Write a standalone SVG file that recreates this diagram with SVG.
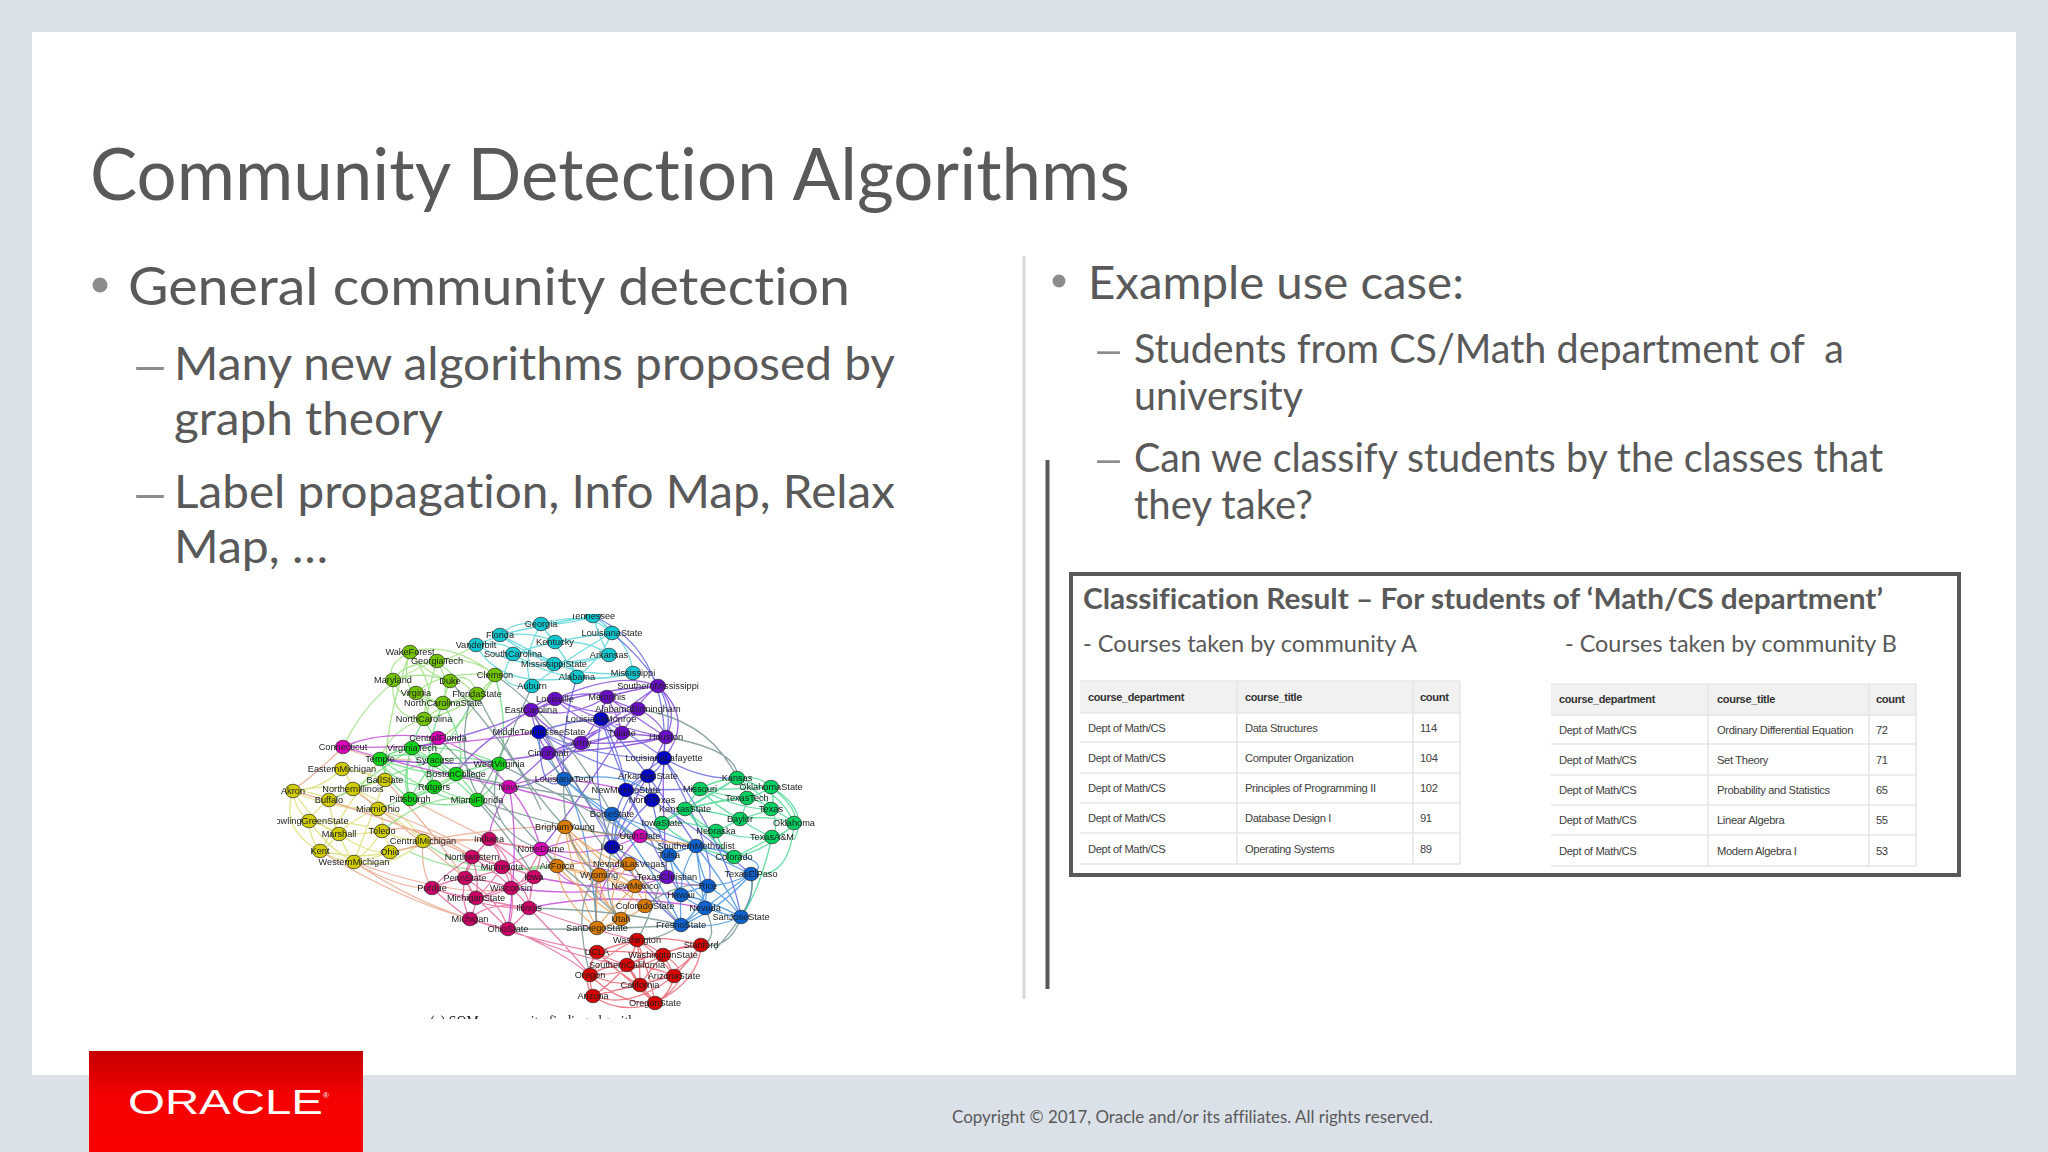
<svg xmlns="http://www.w3.org/2000/svg" width="2048" height="1152" viewBox="0 0 2048 1152">
<style>
.t{font-family:Lato,"Liberation Sans",sans-serif;fill:#595959;font-variant-ligatures:none}
.b{font-family:"Liberation Sans",Arial,sans-serif;font-size:11.2px;letter-spacing:-.35px;fill:#404040}
.h{font-weight:bold;fill:#333}
.tl{fill:none;stroke:#e6e6e6;stroke-width:1.6}
.e{fill:none;stroke-width:1.3;stroke-opacity:.8}
#graph ellipse{rx:7.6px;ry:6.8px;stroke:#222;stroke-width:.7}
#graph text{font-family:"Liberation Sans",Arial,sans-serif;font-size:9.2px;fill:#222;text-anchor:middle}
.cy ellipse{fill:#10c8d0}.li ellipse{fill:#72c400}.gr ellipse{fill:#10d418}.ye ellipse{fill:#d0cc00}.ma ellipse{fill:#d800b8}.cr ellipse{fill:#cc0066}.pu ellipse{fill:#6a10c8}.db ellipse{fill:#0000cc}.bl ellipse{fill:#0a62d0}.te ellipse{fill:#00d060}.or ellipse{fill:#d87a00}.re ellipse{fill:#d80000}
</style>
<defs>
<linearGradient id="red" x1="0" y1="0" x2="0" y2="1"><stop offset="0" stop-color="#c60000"/><stop offset=".45" stop-color="#f50000"/><stop offset="1" stop-color="#fb0000"/></linearGradient>
<clipPath id="imgclip"><rect x="277" y="614" width="560" height="405"/></clipPath>
<filter id="soft" x="0" y="0" width="1" height="1"><feGaussianBlur stdDeviation="0.45"/></filter>
</defs>
<rect width="2048" height="1152" fill="#dbe1e8"/>
<rect x="32" y="32" width="1984" height="1043" fill="#fff"/>
<g id="logo"><rect x="89" y="1051" width="274" height="101" fill="url(#red)"/>
<text x="128" y="1114" font-family="Liberation Sans,sans-serif" font-size="35" fill="#fff" textLength="195" lengthAdjust="spacingAndGlyphs">ORACLE</text>
<text x="323" y="1098" font-family="Liberation Sans,sans-serif" font-size="8" fill="#fff">®</text></g>
<text id="title" class="t" x="90" y="200" font-size="72" textLength="1040" lengthAdjust="spacingAndGlyphs">Community Detection Algorithms</text>
<g id="left-text">
<circle cx="100" cy="285" r="7.5" fill="#8c8c8c"/>
<text class="t" x="128" y="305" font-size="52" textLength="722" lengthAdjust="spacingAndGlyphs">General community detection</text>
<text class="t" x="130" y="382" font-size="46" textLength="40" lengthAdjust="spacingAndGlyphs" style="fill:#8c8c8c">–</text>
<text class="t" x="174" y="380" font-size="46" textLength="721" lengthAdjust="spacingAndGlyphs">Many new algorithms proposed by</text>
<text class="t" x="174" y="435" font-size="46" textLength="269" lengthAdjust="spacingAndGlyphs">graph theory</text>
<text class="t" x="130" y="510" font-size="46" textLength="40" lengthAdjust="spacingAndGlyphs" style="fill:#8c8c8c">–</text>
<text class="t" x="174" y="508" font-size="46" textLength="721" lengthAdjust="spacingAndGlyphs">Label propagation, Info Map, Relax</text>
<text class="t" x="174" y="563" font-size="46" textLength="154" lengthAdjust="spacingAndGlyphs">Map, …</text>
</g>
<line x1="1024" y1="256" x2="1024" y2="999" stroke="#d9d9d9" stroke-width="3"/>
<line x1="1047.5" y1="460" x2="1047.5" y2="989" stroke="#595959" stroke-width="4"/>
<g id="right-text">
<circle cx="1059" cy="281" r="6.5" fill="#8c8c8c"/>
<text class="t" x="1088" y="299" font-size="46" textLength="376" lengthAdjust="spacingAndGlyphs">Example use case:</text>
<text class="t" x="1092" y="365" font-size="41" textLength="33" lengthAdjust="spacingAndGlyphs" style="fill:#8c8c8c">–</text>
<text class="t" x="1134" y="363" font-size="41" textLength="710" lengthAdjust="spacingAndGlyphs" xml:space="preserve">Students from CS/Math department of  a</text>
<text class="t" x="1134" y="410" font-size="41" textLength="169" lengthAdjust="spacingAndGlyphs">university</text>
<text class="t" x="1092" y="474" font-size="41" textLength="33" lengthAdjust="spacingAndGlyphs" style="fill:#8c8c8c">–</text>
<text class="t" x="1134" y="472" font-size="41" textLength="749" lengthAdjust="spacingAndGlyphs">Can we classify students by the classes that</text>
<text class="t" x="1134" y="519" font-size="41" textLength="179" lengthAdjust="spacingAndGlyphs">they take?</text>
</g>
<g id="result-box">
<rect x="1071" y="574" width="888" height="301" fill="#fff" stroke="#595959" stroke-width="4"/>
<text class="t" x="1083" y="609" font-size="29" font-weight="bold" textLength="800" lengthAdjust="spacingAndGlyphs">Classification Result – For students of ‘Math/CS department’</text>
<text class="t" x="1083" y="652" font-size="23" textLength="334" lengthAdjust="spacingAndGlyphs">- Courses taken by community A</text>
<text class="t" x="1565" y="652" font-size="23" textLength="332" lengthAdjust="spacingAndGlyphs">- Courses taken by community B</text>
</g>
<g id="table-a">
<rect x="1080" y="681" width="380" height="32" fill="#f1f1f1"/>
<path class="tl" d="M1080 681H1460M1080 713H1460M1080 742H1460M1080 773H1460M1080 803H1460M1080 833H1460M1080 864H1460M1237 681V864M1413 681V864M1460 681V864"/>
<text class="b h" x="1088" y="701" textLength="96" lengthAdjust="spacingAndGlyphs">course_department</text><text class="b h" x="1245" y="701" textLength="57" lengthAdjust="spacingAndGlyphs">course_title</text><text class="b h" x="1420" y="701">count</text>
<text class="b" x="1088" y="732">Dept of Math/CS</text><text class="b" x="1245" y="732">Data Structures</text><text class="b" x="1420" y="732">114</text>
<text class="b" x="1088" y="762">Dept of Math/CS</text><text class="b" x="1245" y="762">Computer Organization</text><text class="b" x="1420" y="762">104</text>
<text class="b" x="1088" y="792">Dept of Math/CS</text><text class="b" x="1245" y="792">Principles of Programming II</text><text class="b" x="1420" y="792">102</text>
<text class="b" x="1088" y="822">Dept of Math/CS</text><text class="b" x="1245" y="822">Database Design I</text><text class="b" x="1420" y="822">91</text>
<text class="b" x="1088" y="853">Dept of Math/CS</text><text class="b" x="1245" y="853">Operating Systems</text><text class="b" x="1420" y="853">89</text>
</g>
<g id="table-b">
<rect x="1551" y="684" width="365" height="31" fill="#f1f1f1"/>
<path class="tl" d="M1551 684H1916M1551 715H1916M1551 744H1916M1551 775H1916M1551 805H1916M1551 835H1916M1551 866H1916M1708 684V866M1869 684V866M1916 684V866"/>
<text class="b h" x="1559" y="703" textLength="96" lengthAdjust="spacingAndGlyphs">course_department</text><text class="b h" x="1717" y="703" textLength="58" lengthAdjust="spacingAndGlyphs">course_title</text><text class="b h" x="1876" y="703">count</text>
<text class="b" x="1559" y="734">Dept of Math/CS</text><text class="b" x="1717" y="734">Ordinary Differential Equation</text><text class="b" x="1876" y="734">72</text>
<text class="b" x="1559" y="764">Dept of Math/CS</text><text class="b" x="1717" y="764">Set Theory</text><text class="b" x="1876" y="764">71</text>
<text class="b" x="1559" y="794">Dept of Math/CS</text><text class="b" x="1717" y="794">Probability and Statistics</text><text class="b" x="1876" y="794">65</text>
<text class="b" x="1559" y="824">Dept of Math/CS</text><text class="b" x="1717" y="824">Linear Algebra</text><text class="b" x="1876" y="824">55</text>
<text class="b" x="1559" y="855">Dept of Math/CS</text><text class="b" x="1717" y="855">Modern Algebra I</text><text class="b" x="1876" y="855">53</text>
</g>
<text id="copyright" class="t" x="952" y="1123" font-size="18" textLength="481" lengthAdjust="spacingAndGlyphs">Copyright © 2017, Oracle and/or its affiliates. All rights reserved.</text>
<g id="graph" clip-path="url(#imgclip)"><g filter="url(#soft)">
<g id="connectors">
<path class="e" stroke="#4fd3d8" d="M541 624Q515 620 500 635M541 624Q590 610 612 633M541 624Q570 625 593 616M500 635Q540 625 593 616M476 645Q520 625 555 642M476 645Q510 640 513 654M513 654Q550 640 612 633M513 654Q540 650 554 664M554 664Q590 660 609 655M554 664Q570 655 577 677M577 677Q610 680 633 673M532 686Q520 660 541 624M532 686Q580 650 612 633M609 655Q600 640 593 616M577 677Q600 660 612 633M500 635Q560 680 633 673M476 645Q500 690 577 677M555 642Q590 640 609 655M513 654Q490 690 532 686M593 616Q630 640 633 673M476 645Q540 680 609 655M555 642Q545 630 541 624M500 635Q530 650 554 664M541 624Q560 650 577 677M513 654Q570 690 633 673"/>
<path class="e" stroke="#9adf7a" d="M410 652Q450 640 495 675M410 652Q420 670 450 681M410 652Q385 665 393 680M437 661Q470 655 495 675M437 661Q400 665 393 680M437 661Q425 700 424 719M393 680Q420 670 450 681M393 680Q400 700 416 693M393 680Q390 720 424 719M450 681Q470 670 477 694M416 693Q435 715 424 719M477 694Q460 705 443 703M443 703Q430 700 416 693M495 675Q490 690 477 694M450 681Q445 695 443 703M437 661Q470 690 477 694M410 652Q395 700 443 703M495 675Q470 710 424 719M416 693Q440 670 495 675M424 719Q450 700 477 694M410 652Q440 690 424 719M437 661Q450 680 443 703M476 645Q450 660 437 661M424 719Q390 730 380 759M495 675Q460 740 412 748M437 661Q375 680 343 747M410 652Q385 720 385 780"/>
<path class="e" stroke="#64dc7c" d="M412 748Q395 750 380 759M412 748Q425 755 435 760M412 748Q440 775 456 774M412 748Q420 770 434 787M412 748Q400 780 410 799M380 759Q410 750 435 760M380 759Q420 775 456 774M380 759Q390 785 434 787M380 759Q385 780 410 799M435 760Q470 755 499 764M435 760Q445 765 456 774M435 760Q430 775 434 787M435 760Q420 780 410 799M435 760Q460 785 477 800M499 764Q480 765 456 774M499 764Q500 785 477 800M456 774Q445 785 434 787M456 774Q470 785 477 800M434 787Q420 795 410 799M434 787Q460 800 477 800M410 799Q445 810 477 800M410 799Q460 780 499 764M412 748Q460 745 499 764M380 759Q450 810 477 800M424 719Q440 745 435 760M443 703Q470 750 456 774M477 694Q450 740 435 760M495 675Q510 730 499 764M424 719Q400 760 410 799M443 703Q420 760 434 787"/>
<path class="e" stroke="#dcdc70" d="M342 769Q350 780 353 789M342 769Q320 790 293 791M342 769Q360 770 385 780M353 789Q320 785 293 791M353 789Q370 785 385 780M353 789Q340 795 329 800M353 789Q370 800 378 809M293 791Q310 790 329 800M293 791Q295 810 309 821M293 791Q320 830 339 834M293 791Q330 810 378 809M329 800Q315 810 309 821M329 800Q330 815 339 834M329 800Q350 810 378 809M378 809Q350 820 339 834M378 809Q385 820 382 831M378 809Q400 820 423 841M309 821Q325 825 339 834M309 821Q310 840 320 851M309 821Q330 850 354 862M309 821Q350 820 382 831M339 834Q360 835 382 831M339 834Q330 845 320 851M339 834Q345 850 354 862M339 834Q370 855 390 852M382 831Q400 840 423 841M382 831Q390 845 390 852M382 831Q370 850 354 862M423 841Q410 850 390 852M423 841Q390 870 354 862M320 851Q335 860 354 862M390 852Q370 860 354 862M320 851Q360 860 390 852M293 791Q280 830 320 851M353 789Q405 810 423 841M385 780Q370 820 354 862M380 759Q345 810 320 851"/>
<path class="e" stroke="#e9a48a" d="M354 862Q410 900 470 919M354 862Q400 890 432 888M343 747Q320 770 293 791M320 851Q400 900 470 919M390 852Q440 840 489 839M423 841Q460 835 541 849M382 831Q420 820 472 857M423 841Q420 870 432 888M353 789Q420 840 465 878M378 809Q440 830 502 867M343 747Q370 760 412 760M385 780Q450 850 476 898M423 841Q510 825 565 827M354 862Q460 900 511 888M410 799Q470 830 489 839M293 791Q400 820 472 857"/>
<path class="e" stroke="#7bdc80" d="M410 852Q470 880 541 866M423 841Q470 880 557 866M382 831Q430 790 477 800M329 800Q400 770 435 760M353 789Q395 760 412 748M378 809Q430 790 456 774"/>
<path class="e" stroke="#e2609a" d="M489 839Q480 850 472 857M489 839Q500 850 502 867M489 839Q470 860 465 878M489 839Q520 860 534 877M489 839Q515 860 511 888M472 857Q485 860 502 867M472 857Q465 870 465 878M472 857Q450 870 432 888M472 857Q500 875 511 888M472 857Q480 880 476 898M502 867Q490 875 465 878M502 867Q520 870 534 877M502 867Q510 880 511 888M502 867Q490 885 476 898M502 867Q530 890 529 908M465 878Q450 880 432 888M465 878Q490 880 511 888M465 878Q470 890 476 898M465 878Q460 900 470 919M465 878Q500 900 508 929M534 877Q525 885 511 888M534 877Q530 895 529 908M534 877Q500 890 476 898M432 888Q450 895 476 898M432 888Q450 905 470 919M432 888Q490 910 529 908M511 888Q495 895 476 898M511 888Q520 895 529 908M511 888Q515 910 508 929M476 898Q475 910 470 919M476 898Q495 915 508 929M476 898Q505 905 529 908M529 908Q520 920 508 929M470 919Q490 925 508 929M529 908Q490 900 470 919M541 849Q520 860 502 867M541 849Q500 845 489 839M541 849Q540 865 534 877M541 849Q520 890 511 888M508 929Q560 950 590 975M470 919Q530 940 597 952M529 908Q570 950 590 975M508 929Q580 960 627 965M529 908Q590 930 637 940"/>
<path class="e" stroke="#c13fd6" d="M509 787Q490 820 489 839M509 787Q530 810 541 849M509 787Q540 770 626 790M343 747Q420 770 509 787M541 849Q600 830 640 836M438 738Q490 760 509 787M640 836Q590 860 541 849M438 738Q380 730 343 747M343 747Q420 750 539 732M541 849Q570 900 605 880M640 836Q600 880 600 900M509 787Q520 840 508 929M534 877Q600 890 681 895M511 888Q600 900 667 877M541 849Q620 880 708 886M509 787Q560 800 612 814M529 908Q610 890 705 908"/>
<path class="e" stroke="#7f42d8" d="M555 699Q540 700 531 710M555 699Q590 690 607 697M555 699Q600 720 638 709M555 699Q590 730 622 733M555 699Q620 730 666 737M531 710Q570 720 607 697M531 710Q590 690 658 686M531 710Q550 735 581 743M531 710Q535 735 548 753M607 697Q630 690 658 686M607 697Q620 705 638 709M607 697Q600 720 581 743M607 697Q620 720 622 733M607 697Q640 720 666 737M658 686Q640 700 638 709M658 686Q680 710 666 737M658 686Q610 720 581 743M638 709Q630 720 622 733M638 709Q660 720 666 737M638 709Q600 730 581 743M638 709Q590 735 548 753M622 733Q600 740 581 743M622 733Q640 735 666 737M622 733Q590 745 548 753M581 743Q565 745 548 753M581 743Q620 745 666 737M666 737Q620 750 548 753M658 686Q620 670 555 699M658 686Q695 720 664 758M666 737Q660 770 667 877M548 753Q520 780 509 787M555 699Q500 730 412 748M581 743Q540 790 509 787M622 733Q580 800 541 849M666 737Q630 810 612 847M531 710Q570 780 564 779M531 710Q470 750 456 774M548 753Q470 770 380 759"/>
<path class="e" stroke="#5b5fe0" d="M539 732Q570 720 601 719M539 732Q600 760 664 758M539 732Q600 770 648 776M601 719Q640 740 664 758M601 719Q620 750 626 790M601 719Q630 750 648 776M664 758Q660 770 648 776M664 758Q640 775 626 790M664 758Q665 780 652 800M648 776Q640 780 626 790M648 776Q650 790 652 800M648 776Q625 790 612 847M626 790Q640 795 652 800M626 790Q610 820 612 847M652 800Q630 820 612 847M593 616Q670 650 664 758M612 633Q680 690 666 737M539 732Q590 800 612 847M601 719Q590 790 612 847M626 790Q650 790 700 789M539 732Q540 800 564 779M664 758Q700 780 737 778M612 847Q640 860 667 877M577 677Q560 730 564 779M652 800Q660 840 669 855M626 790Q650 850 696 846M648 776Q680 820 696 846M664 758Q720 860 708 886M601 719Q640 830 681 895M612 847Q650 900 681 925M652 800Q700 830 751 874M664 758Q730 850 741 917"/>
<path class="e" stroke="#3f8fe0" d="M564 779Q530 740 539 732M564 779Q590 800 612 814M564 779Q590 830 597 928M612 814Q620 830 612 847M612 814Q650 830 669 855M669 855Q680 850 696 846M696 846Q700 870 708 886M669 855Q680 880 708 886M669 855Q675 880 681 895M696 846Q720 860 751 874M696 846Q680 870 681 895M696 846Q700 880 705 908M696 846Q730 890 741 917M708 886Q690 890 681 895M708 886Q705 900 705 908M708 886Q730 885 751 874M708 886Q730 900 741 917M708 886Q700 910 681 925M681 895Q695 905 705 908M681 895Q710 900 741 917M681 895Q680 910 681 925M705 908Q725 915 741 917M705 908Q695 915 681 925M705 908Q735 885 751 874M751 874Q755 900 741 917M741 917Q710 930 681 925M751 874Q720 910 681 925M669 855Q710 920 741 917M612 814Q660 880 681 925M696 846Q780 860 751 874M564 779Q620 830 669 855M612 814Q660 830 696 846M564 779Q640 770 652 800"/>
<path class="e" stroke="#44d690" d="M737 778Q760 775 771 787M737 778Q715 780 700 789M737 778Q745 785 747 798M737 778Q770 800 771 809M737 778Q780 790 794 823M737 778Q700 800 685 809M771 787Q760 795 747 798M771 787Q775 800 771 809M771 787Q800 810 794 823M771 787Q720 790 700 789M700 789Q720 795 747 798M700 789Q690 800 685 809M700 789Q740 810 771 809M700 789Q720 810 740 819M747 798Q760 800 771 809M747 798Q745 810 740 819M747 798Q720 800 685 809M771 809Q785 815 794 823M771 809Q755 815 740 819M771 809Q780 825 772 837M685 809Q670 815 662 823M685 809Q710 810 740 819M685 809Q700 825 716 831M662 823Q690 820 716 831M662 823Q700 800 747 798M740 819Q730 825 716 831M740 819Q755 830 772 837M740 819Q770 815 794 823M716 831Q745 840 772 837M716 831Q720 850 734 857M794 823Q785 835 772 837M772 837Q750 850 734 857M794 823Q770 850 734 857M662 823Q690 850 734 857M685 809Q710 840 734 857M794 823Q790 880 751 874M772 837Q760 890 741 917M771 787Q810 810 794 840M662 823Q720 790 737 778"/>
<path class="e" stroke="#e8a15c" d="M565 827Q550 850 557 866M565 827Q600 860 629 864M565 827Q580 860 599 875M565 827Q610 870 635 886M565 827Q600 880 645 906M565 827Q590 890 621 919M565 827Q575 890 597 928M557 866Q590 860 629 864M557 866Q575 870 599 875M557 866Q600 880 635 886M557 866Q590 900 621 919M629 864Q615 870 599 875M629 864Q635 875 635 886M629 864Q650 880 645 906M599 875Q615 880 635 886M599 875Q600 900 621 919M599 875Q595 900 597 928M635 886Q640 895 645 906M635 886Q630 905 621 919M635 886Q610 910 597 928M645 906Q635 915 621 919M645 906Q620 925 597 928M621 919Q610 925 597 928M557 866Q560 900 597 928M629 864Q600 900 621 919M565 827Q640 840 700 845"/>
<path class="e" stroke="#e85f6c" d="M637 940Q615 945 597 952M637 940Q650 945 663 955M637 940Q635 950 627 965M637 940Q610 950 590 975M637 940Q665 935 701 945M637 940Q660 955 674 976M637 940Q640 960 640 985M637 940Q650 975 655 1003M701 945Q680 945 663 955M701 945Q690 960 674 976M701 945Q660 950 627 965M701 945Q680 975 640 985M701 945Q700 980 655 1003M597 952Q620 950 663 955M597 952Q610 960 627 965M597 952Q590 960 590 975M597 952Q620 975 640 985M597 952Q580 980 593 996M597 952Q640 990 655 1003M663 955Q645 955 627 965M663 955Q670 965 674 976M663 955Q650 970 640 985M663 955Q630 975 590 975M627 965Q605 965 590 975M627 965Q650 965 674 976M627 965Q635 975 640 985M627 965Q610 985 593 996M627 965Q640 990 655 1003M590 975Q590 985 593 996M590 975Q615 985 640 985M590 975Q620 1005 655 1003M674 976Q655 980 640 985M674 976Q670 995 655 1003M640 985Q615 990 593 996M640 985Q650 995 655 1003M593 996Q620 1015 655 1003M674 976Q630 1010 593 996M663 955Q700 975 655 1003"/>
<path class="e" stroke="#6f8f8f" d="M470 700Q450 780 500 820M477 694Q520 780 565 827M495 675Q560 720 612 814M564 779Q560 850 599 875M531 710Q620 860 681 925M638 709Q710 720 737 778M666 737Q740 750 737 778M477 800Q560 830 641 838M438 738Q520 820 557 866M499 764Q590 810 669 855M548 753Q600 860 629 864M612 814Q590 880 597 928M669 855Q650 920 637 940M705 908Q720 940 701 945M741 917Q730 950 701 945M681 925Q660 940 637 940M751 874Q760 900 715 950M599 875Q570 900 590 975M456 774Q530 790 600 800M477 800Q520 850 534 877M499 764Q480 830 541 849M541 849Q580 880 621 919M612 847Q600 900 621 919M532 686Q500 760 477 800M450 681Q520 760 541 810M529 908Q620 910 681 925M508 929Q610 930 681 925M645 906Q680 880 708 886"/>
</g>
<g class="cy"><g id="n-georgia"><ellipse cx="541" cy="624"/><text x="541" y="627">Georgia</text></g><g id="n-florida"><ellipse cx="500" cy="635"/><text x="500" y="638">Florida</text></g><g id="n-vanderbilt"><ellipse cx="476" cy="645"/><text x="476" y="648">Vanderbilt</text></g><g id="n-kentucky"><ellipse cx="555" cy="642"/><text x="555" y="645">Kentucky</text></g><g id="n-southcarolina"><ellipse cx="513" cy="654"/><text x="513" y="657">SouthCarolina</text></g><g id="n-mississippistate"><ellipse cx="554" cy="664"/><text x="554" y="667">MississippiState</text></g><g id="n-alabama"><ellipse cx="577" cy="677"/><text x="577" y="680">Alabama</text></g><g id="n-auburn"><ellipse cx="532" cy="686"/><text x="532" y="689">Auburn</text></g><g id="n-tennessee"><ellipse cx="593" cy="616"/><text x="593" y="619">Tennessee</text></g><g id="n-louisianastate"><ellipse cx="612" cy="633"/><text x="612" y="636">LouisianaState</text></g><g id="n-arkansas"><ellipse cx="609" cy="655"/><text x="609" y="658">Arkansas</text></g><g id="n-mississippi"><ellipse cx="633" cy="673"/><text x="633" y="676">Mississippi</text></g></g>
<g class="li"><g id="n-clemson"><ellipse cx="495" cy="675"/><text x="495" y="678">Clemson</text></g><g id="n-wakeforest"><ellipse cx="410" cy="652"/><text x="410" y="655">WakeForest</text></g><g id="n-georgiatech"><ellipse cx="437" cy="661"/><text x="437" y="664">GeorgiaTech</text></g><g id="n-maryland"><ellipse cx="393" cy="680"/><text x="393" y="683">Maryland</text></g><g id="n-duke"><ellipse cx="450" cy="681"/><text x="450" y="684">Duke</text></g><g id="n-virginia"><ellipse cx="416" cy="693"/><text x="416" y="696">Virginia</text></g><g id="n-floridastate"><ellipse cx="477" cy="694"/><text x="477" y="697">FloridaState</text></g><g id="n-ncstate"><ellipse cx="443" cy="703"/><text x="443" y="706">NorthCarolinaState</text></g><g id="n-northcarolina"><ellipse cx="424" cy="719"/><text x="424" y="722">NorthCarolina</text></g></g>
<g class="gr"><g id="n-virginiatech"><ellipse cx="412" cy="748"/><text x="412" y="751">VirginiaTech</text></g><g id="n-temple"><ellipse cx="380" cy="759"/><text x="380" y="762">Temple</text></g><g id="n-syracuse"><ellipse cx="435" cy="760"/><text x="435" y="763">Syracuse</text></g><g id="n-westvirginia"><ellipse cx="499" cy="764"/><text x="499" y="767">WestVirginia</text></g><g id="n-bostoncollege"><ellipse cx="456" cy="774"/><text x="456" y="777">BostonCollege</text></g><g id="n-rutgers"><ellipse cx="434" cy="787"/><text x="434" y="790">Rutgers</text></g><g id="n-pittsburgh"><ellipse cx="410" cy="799"/><text x="410" y="802">Pittsburgh</text></g><g id="n-miamiflorida"><ellipse cx="477" cy="800"/><text x="477" y="803">MiamiFlorida</text></g></g>
<g class="ma"><g id="n-centralflorida"><ellipse cx="438" cy="738"/><text x="438" y="741">CentralFlorida</text></g><g id="n-connecticut"><ellipse cx="343" cy="747"/><text x="343" y="750">Connecticut</text></g><g id="n-navy"><ellipse cx="509" cy="787"/><text x="509" y="790">Navy</text></g><g id="n-notredame"><ellipse cx="541" cy="849"/><text x="541" y="852">NotreDame</text></g><g id="n-utahstate"><ellipse cx="640" cy="836"/><text x="640" y="839">UtahState</text></g></g>
<g class="pu"><g id="n-louisville"><ellipse cx="555" cy="699"/><text x="555" y="702">Louisville</text></g><g id="n-eastcarolina"><ellipse cx="531" cy="710"/><text x="531" y="713">EastCarolina</text></g><g id="n-cincinnati"><ellipse cx="548" cy="753"/><text x="548" y="756">Cincinnati</text></g><g id="n-army"><ellipse cx="581" cy="743"/><text x="581" y="746">Army</text></g><g id="n-southernmississippi"><ellipse cx="658" cy="686"/><text x="658" y="689">SouthernMississippi</text></g><g id="n-memphis"><ellipse cx="607" cy="697"/><text x="607" y="700">Memphis</text></g><g id="n-alabamabirmingham"><ellipse cx="638" cy="709"/><text x="638" y="712">AlabamaBirmingham</text></g><g id="n-tulane"><ellipse cx="622" cy="733"/><text x="622" y="736">Tulane</text></g><g id="n-houston"><ellipse cx="666" cy="737"/><text x="666" y="740">Houston</text></g><g id="n-texaschristian"><ellipse cx="667" cy="877"/><text x="667" y="880">TexasChristian</text></g></g>
<g class="db"><g id="n-middletennesseestate"><ellipse cx="539" cy="732"/><text x="539" y="735">MiddleTennesseeState</text></g><g id="n-louisianamonroe"><ellipse cx="601" cy="719"/><text x="601" y="722">LouisianaMonroe</text></g><g id="n-louisianalafayette"><ellipse cx="664" cy="758"/><text x="664" y="761">LouisianaLafayette</text></g><g id="n-arkansasstate"><ellipse cx="648" cy="776"/><text x="648" y="779">ArkansasState</text></g><g id="n-newmexicostate"><ellipse cx="626" cy="790"/><text x="626" y="793">NewMexicoState</text></g><g id="n-northtexas"><ellipse cx="652" cy="800"/><text x="652" y="803">NorthTexas</text></g><g id="n-idaho"><ellipse cx="612" cy="847"/><text x="612" y="850">Idaho</text></g></g>
<g class="bl"><g id="n-louisianatech"><ellipse cx="564" cy="779"/><text x="564" y="782">LouisianaTech</text></g><g id="n-boisestate"><ellipse cx="612" cy="814"/><text x="612" y="817">BoiseState</text></g><g id="n-southernmethodist"><ellipse cx="696" cy="846"/><text x="696" y="849">SouthernMethodist</text></g><g id="n-tulsa"><ellipse cx="669" cy="855"/><text x="669" y="858">Tulsa</text></g><g id="n-texaselpaso"><ellipse cx="751" cy="874"/><text x="751" y="877">TexasElPaso</text></g><g id="n-rice"><ellipse cx="708" cy="886"/><text x="708" y="889">Rice</text></g><g id="n-hawaii"><ellipse cx="681" cy="895"/><text x="681" y="898">Hawaii</text></g><g id="n-nevada"><ellipse cx="705" cy="908"/><text x="705" y="911">Nevada</text></g><g id="n-sanjosestate"><ellipse cx="741" cy="917"/><text x="741" y="920">SanJoseState</text></g><g id="n-fresnostate"><ellipse cx="681" cy="925"/><text x="681" y="928">FresnoState</text></g></g>
<g class="ye"><g id="n-easternmichigan"><ellipse cx="342" cy="769"/><text x="342" y="772">EasternMichigan</text></g><g id="n-ballstate"><ellipse cx="385" cy="780"/><text x="385" y="783">BallState</text></g><g id="n-northernillinois"><ellipse cx="353" cy="789"/><text x="353" y="792">NorthernIllinois</text></g><g id="n-akron"><ellipse cx="293" cy="791"/><text x="293" y="794">Akron</text></g><g id="n-buffalo"><ellipse cx="329" cy="800"/><text x="329" y="803">Buffalo</text></g><g id="n-miamiohio"><ellipse cx="378" cy="809"/><text x="378" y="812">MiamiOhio</text></g><g id="n-bowlinggreen"><ellipse cx="309" cy="821"/><text x="312" y="824">owlingGreenState</text></g><g id="n-marshall"><ellipse cx="339" cy="834"/><text x="339" y="837">Marshall</text></g><g id="n-toledo"><ellipse cx="382" cy="831"/><text x="382" y="834">Toledo</text></g><g id="n-centralmichigan"><ellipse cx="423" cy="841"/><text x="423" y="844">CentralMichigan</text></g><g id="n-kent"><ellipse cx="320" cy="851"/><text x="320" y="854">Kent</text></g><g id="n-ohio"><ellipse cx="390" cy="852"/><text x="390" y="855">Ohio</text></g><g id="n-westernmichigan"><ellipse cx="354" cy="862"/><text x="354" y="865">WesternMichigan</text></g></g>
<g class="cr"><g id="n-indiana"><ellipse cx="489" cy="839"/><text x="489" y="842">Indiana</text></g><g id="n-northwestern"><ellipse cx="472" cy="857"/><text x="472" y="860">Northwestern</text></g><g id="n-minnesota"><ellipse cx="502" cy="867"/><text x="502" y="870">Minnesota</text></g><g id="n-pennstate"><ellipse cx="465" cy="878"/><text x="465" y="881">PennState</text></g><g id="n-iowa"><ellipse cx="534" cy="877"/><text x="534" y="880">Iowa</text></g><g id="n-purdue"><ellipse cx="432" cy="888"/><text x="432" y="891">Purdue</text></g><g id="n-wisconsin"><ellipse cx="511" cy="888"/><text x="511" y="891">Wisconsin</text></g><g id="n-michiganstate"><ellipse cx="476" cy="898"/><text x="476" y="901">MichiganState</text></g><g id="n-illinois"><ellipse cx="529" cy="908"/><text x="529" y="911">Illinois</text></g><g id="n-michigan"><ellipse cx="470" cy="919"/><text x="470" y="922">Michigan</text></g><g id="n-ohiostate"><ellipse cx="508" cy="929"/><text x="508" y="932">OhioState</text></g></g>
<g class="te"><g id="n-kansas"><ellipse cx="737" cy="778"/><text x="737" y="781">Kansas</text></g><g id="n-oklahomastate"><ellipse cx="771" cy="787"/><text x="771" y="790">OklahomaState</text></g><g id="n-missouri"><ellipse cx="700" cy="789"/><text x="700" y="792">Missouri</text></g><g id="n-texastech"><ellipse cx="747" cy="798"/><text x="747" y="801">TexasTech</text></g><g id="n-texas"><ellipse cx="771" cy="809"/><text x="771" y="812">Texas</text></g><g id="n-kansasstate"><ellipse cx="685" cy="809"/><text x="685" y="812">KansasState</text></g><g id="n-iowastate"><ellipse cx="662" cy="823"/><text x="662" y="826">IowaState</text></g><g id="n-baylor"><ellipse cx="740" cy="819"/><text x="740" y="822">Baylor</text></g><g id="n-oklahoma"><ellipse cx="794" cy="823"/><text x="794" y="826">Oklahoma</text></g><g id="n-nebraska"><ellipse cx="716" cy="831"/><text x="716" y="834">Nebraska</text></g><g id="n-texasam"><ellipse cx="772" cy="837"/><text x="772" y="840">TexasA&amp;M</text></g><g id="n-colorado"><ellipse cx="734" cy="857"/><text x="734" y="860">Colorado</text></g></g>
<g class="or"><g id="n-brighamyoung"><ellipse cx="565" cy="827"/><text x="565" y="830">BrighamYoung</text></g><g id="n-airforce"><ellipse cx="557" cy="866"/><text x="557" y="869">AirForce</text></g><g id="n-nevadalasvegas"><ellipse cx="629" cy="864"/><text x="629" y="867">NevadaLasVegas</text></g><g id="n-wyoming"><ellipse cx="599" cy="875"/><text x="599" y="878">Wyoming</text></g><g id="n-newmexico"><ellipse cx="635" cy="886"/><text x="635" y="889">NewMexico</text></g><g id="n-coloradostate"><ellipse cx="645" cy="906"/><text x="645" y="909">ColoradoState</text></g><g id="n-utah"><ellipse cx="621" cy="919"/><text x="621" y="922">Utah</text></g><g id="n-sandiegostate"><ellipse cx="597" cy="928"/><text x="597" y="931">SanDiegoState</text></g></g>
<g class="re"><g id="n-washington"><ellipse cx="637" cy="940"/><text x="637" y="943">Washington</text></g><g id="n-stanford"><ellipse cx="701" cy="945"/><text x="701" y="948">Stanford</text></g><g id="n-ucla"><ellipse cx="597" cy="952"/><text x="597" y="955">UCLA</text></g><g id="n-washingtonstate"><ellipse cx="663" cy="955"/><text x="663" y="958">WashingtonState</text></g><g id="n-southerncalifornia"><ellipse cx="627" cy="965"/><text x="627" y="968">SouthernCalifornia</text></g><g id="n-oregon"><ellipse cx="590" cy="975"/><text x="590" y="978">Oregon</text></g><g id="n-arizonastate"><ellipse cx="674" cy="976"/><text x="674" y="979">ArizonaState</text></g><g id="n-california"><ellipse cx="640" cy="985"/><text x="640" y="988">California</text></g><g id="n-arizona"><ellipse cx="593" cy="996"/><text x="593" y="999">Arizona</text></g><g id="n-oregonstate"><ellipse cx="655" cy="1003"/><text x="655" y="1006">OregonState</text></g></g>
<text x="538" y="1027" style="font-family:'Liberation Serif',serif;font-size:17px" textLength="216" lengthAdjust="spacingAndGlyphs">(a) SOM community finding algorithm</text>
</g></g>
</svg>
